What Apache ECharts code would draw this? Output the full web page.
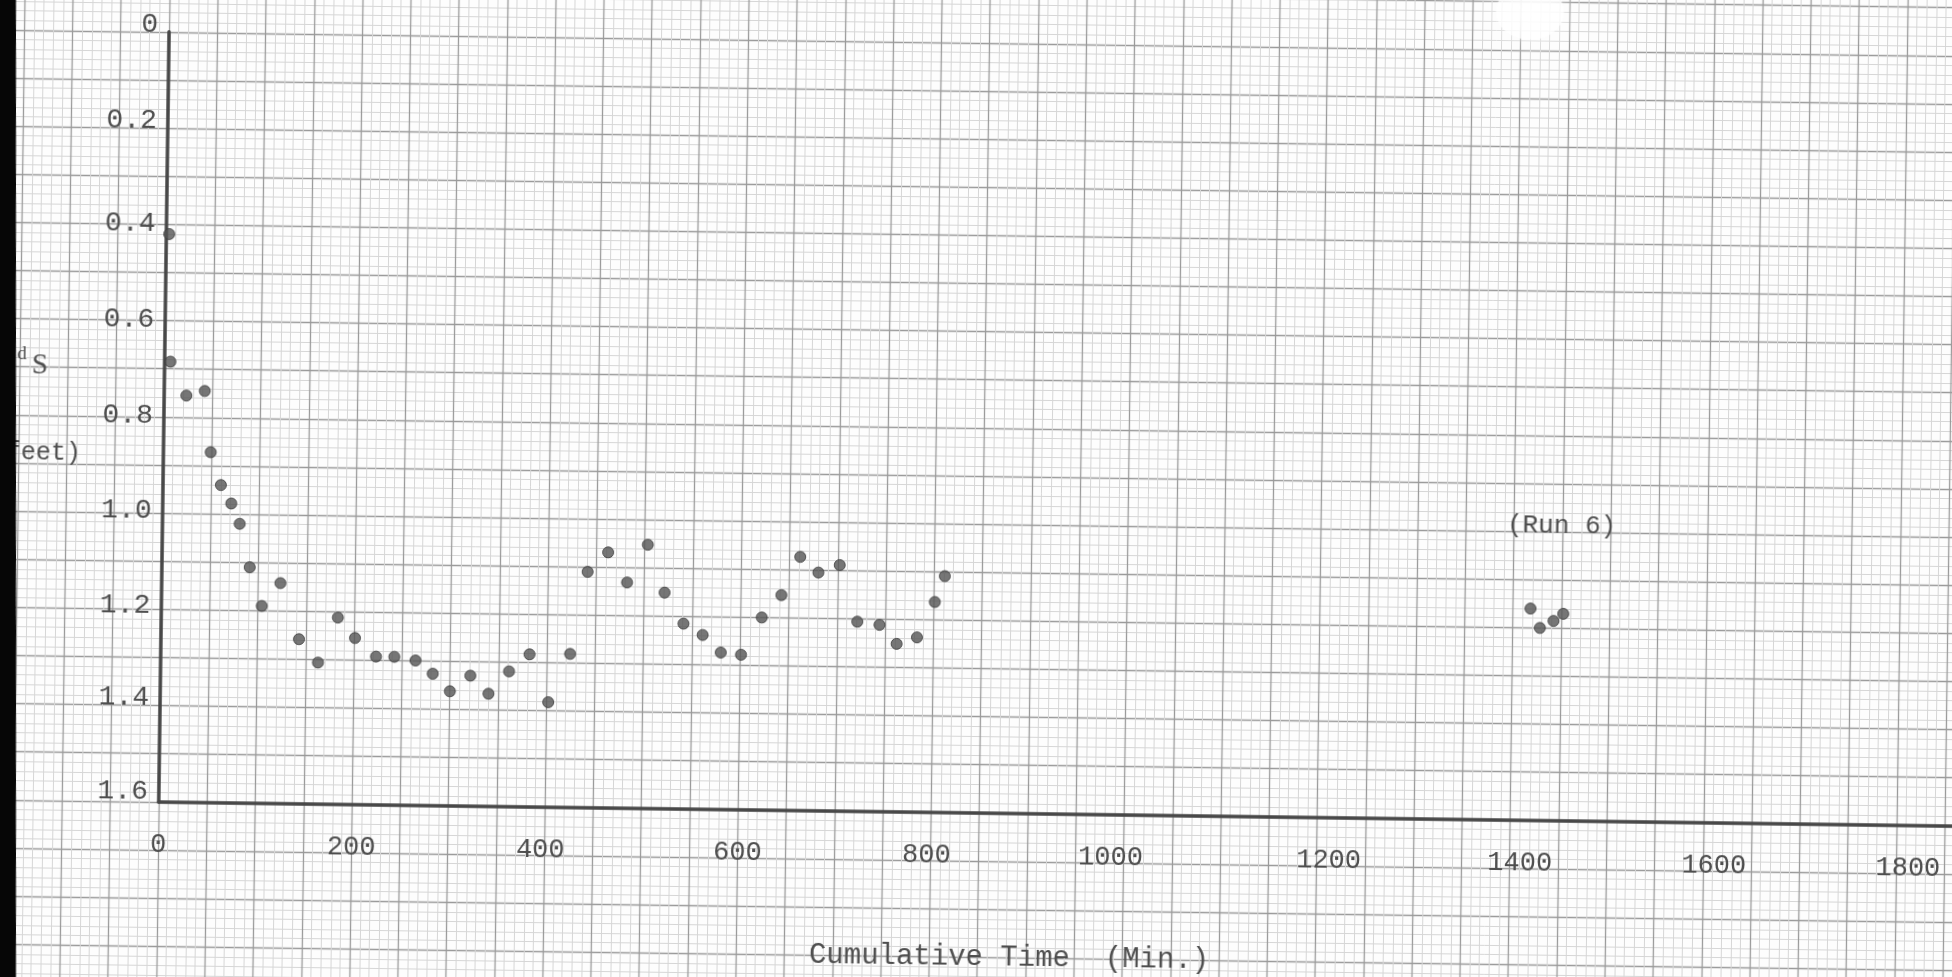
<!DOCTYPE html>
<html>
<head>
<meta charset="utf-8">
<script src="https://cdn.jsdelivr.net/npm/echarts@6/dist/echarts.min.js"></script>
<style>
  html, body { margin: 0; padding: 0; width: 1952px; height: 977px; overflow: hidden; background: #fff; }
  /* the sheet sits slightly askew, so the whole drawing is turned a little */
  #chart { position: absolute; left: -60px; top: -60px; width: 2072px; height: 1097px;
           transform: rotate(0.77deg); transform-origin: 50% 50%; }
</style>
</head>
<body>
<div id="chart"></div>
<script>
// Run 5: cumulative time (min) and scour depth d_S (feet)
const run5Time  = [3, 6, 23, 42, 49, 60, 71, 80, 91, 104, 123, 143, 163, 183, 201, 223, 242, 264, 282, 300,
                   321, 340, 361, 382, 402, 424, 441, 462, 482, 503, 521, 541, 561, 580, 601, 622, 642, 661,
                   680, 702, 721, 744, 762, 783, 801, 811];
const run5Depth = [0.42, 0.685, 0.755, 0.745, 0.872, 0.94, 0.978, 1.02, 1.11, 1.19, 1.142, 1.258, 1.306, 1.212,
                   1.254, 1.292, 1.292, 1.299, 1.326, 1.362, 1.329, 1.366, 1.319, 1.283, 1.382, 1.281, 1.11,
                   1.069, 1.131, 1.052, 1.151, 1.215, 1.238, 1.274, 1.278, 1.2, 1.153, 1.073, 1.105, 1.089,
                   1.206, 1.212, 1.251, 1.237, 1.163, 1.109];

// Run 6
const run6Time  = [1418, 1428, 1442, 1452];
const run6Depth = [1.16, 1.2, 1.185, 1.17];

// tick labels
const timeTicks = [0, 200, 400, 600, 800, 1000, 1200, 1400, 1600, 1800];
const depthTicks = [0, 0.2, 0.4, 0.6, 0.8, 1.0, 1.2, 1.4, 1.6];
const depthTickLabels = ['0', '0.2', '0.4', '0.6', '0.8', '1.0', '1.2', '1.4', '1.6'];

const xTitle = 'Cumulative Time  (Min.)';
const runNote = '(Run 6)';
const runNoteAt = [1449, 0.987];

// ---- layout ----
// typed labels sit a little off their rulings (px): time labels + = right, depth labels + = up
const timeLabelNudge = [0, 0, -4, 0, -4, -13, 12, 10, 11, 12];
const depthLabelNudge = [7, 6, -6, -6, -6, -3, -1, 8, 12];

const TILT = 0.77 * Math.PI / 180;
const W = 2072, H = 1097, OFF = 60;
const CX = W / 2, CY = H / 2;
// page point -> point in the chart's own (turned) frame
function fromView(px, py) {
  const dx = px + OFF - CX, dy = py + OFF - CY;
  const c = Math.cos(TILT), s = Math.sin(TILT);
  return [CX + dx * c + dy * s, CY - dx * s + dy * c];
}

const ink = '#4e4e4e';
const mono = '"Liberation Mono", "DejaVu Sans Mono", monospace';
const serif = '"Liberation Serif", "DejaVu Serif", serif';

const pxPerMin = 0.9655, pxPerFoot = 481.3;
const originX = 223, originY = 102.8;   // where time 0 / depth 0 fall in the frame

const run5 = run5Time.map((t, i) => [t, run5Depth[i]]);
const run6 = run6Time.map((t, i) => [t, run6Depth[i]]);

const timeRich = {};
timeLabelNudge.forEach((n, i) => {
  timeRich['t' + i] = { fontFamily: mono, fontSize: 27, color: ink,
                        padding: n >= 0 ? [0, 0, 0, 2 * n] : [0, -2 * n, 0, 0] };
});
// depth labels: base lift of 8px above the ruling, plus each label's own offset
const depthRich = {};
depthLabelNudge.forEach((n, i) => {
  const lift = 8 + n;
  depthRich['d' + i] = { fontFamily: mono, fontSize: 28, color: ink, lineHeight: 28,
                         padding: lift >= 0 ? [0, 0, lift, 0] : [-lift, 0, 0, 0] };
});

const titlePos = fromView(1009, 958);
const dPos = fromView(22, 354);
const sPos = fromView(40, 366);
const feetPos = fromView(81, 453);
const barCorner = fromView(-50, -80);
const smudgePos = fromView(1530, 12);

const chart = echarts.init(document.getElementById('chart'), null, { renderer: 'canvas' });

chart.setOption({
  animation: false,
  backgroundColor: '#fdfdfd',
  grid: [
    // graph-paper ruling, covering the whole sheet
    { left: originX - 200 * pxPerMin, top: originY - 0.2 * pxPerFoot,
      width: 2100 * pxPerMin, height: 2.3 * pxPerFoot, show: false, outerBoundsMode: 'none' },
    // plotting area
    { left: originX, top: originY, width: 1900 * pxPerMin, height: 1.6 * pxPerFoot,
      show: false, outerBoundsMode: 'none' }
  ],
  xAxis: [
    { gridIndex: 0, type: 'value', min: -200, max: 1900, interval: 50,
      axisLine: { show: false }, axisTick: { show: false }, axisLabel: { show: false },
      splitLine: { show: true, lineStyle: { color: '#9a9a9a', width: 1.3 } },
      minorTick: { show: false, splitNumber: 5 },
      minorSplitLine: { show: true, lineStyle: { color: '#d6d6d6', width: 1 } } },
    { gridIndex: 1, type: 'value', min: 0, max: 1900, interval: 200,
      axisLine: { show: true, onZero: false, lineStyle: { color: '#474747', width: 3.5 } },
      axisTick: { show: false }, splitLine: { show: false },
      axisLabel: { margin: 29, fontFamily: mono, fontSize: 27, color: ink, showMaxLabel: false,
                   rich: timeRich,
                   formatter: v => {
                     const i = timeTicks.indexOf(v);
                     return i < 0 ? '' : '{t' + i + '|' + v + '}';
                   } } }
  ],
  yAxis: [
    { gridIndex: 0, type: 'value', inverse: true, min: -0.2, max: 2.1, interval: 0.1,
      axisLine: { show: false }, axisTick: { show: false }, axisLabel: { show: false },
      splitLine: { show: true, lineStyle: { color: '#9a9a9a', width: 1.3 } },
      minorTick: { show: false, splitNumber: 5 },
      minorSplitLine: { show: true, lineStyle: { color: '#d6d6d6', width: 1 } } },
    { gridIndex: 1, type: 'value', inverse: true, min: 0, max: 1.6, interval: 0.2,
      axisLine: { show: true, onZero: false, lineStyle: { color: '#474747', width: 3.5 } },
      axisTick: { show: false }, splitLine: { show: false },
      axisLabel: { margin: 11, fontFamily: mono, fontSize: 28, color: ink, verticalAlign: 'middle',
                   rich: depthRich,
                   formatter: v => {
                     const i = depthTicks.findIndex(t => Math.abs(t - v) < 1e-6);
                     return i < 0 ? '' : '{d' + i + '|' + depthTickLabels[i] + '}';
                   } } }
  ],
  series: [
    { name: 'Run 5', type: 'scatter', xAxisIndex: 1, yAxisIndex: 1, data: run5,
      symbol: 'circle', symbolSize: 11,
      itemStyle: { color: '#545454', borderColor: '#3a3a3a', borderWidth: 1 } },
    { name: 'Run 6', type: 'scatter', xAxisIndex: 1, yAxisIndex: 1, data: run6,
      symbol: 'circle', symbolSize: 11,
      itemStyle: { color: '#545454', borderColor: '#3a3a3a', borderWidth: 1 },
      markPoint: {
        symbol: 'rect', symbolSize: [1, 1], itemStyle: { color: 'rgba(0,0,0,0)' },
        label: { show: true, position: 'inside', formatter: runNote,
                 fontFamily: mono, fontSize: 26, color: ink },
        data: [{ coord: runNoteAt }]
      } }
  ],
  graphic: [
    { type: 'text', x: titlePos[0], y: titlePos[1], z: 50,
      style: { text: xTitle, font: '29px ' + mono, fill: ink,
               align: 'center', verticalAlign: 'middle', textAlign: 'center', textVerticalAlign: 'middle' } },
    { type: 'text', x: dPos[0], y: dPos[1], z: 50,
      style: { text: 'd', font: '19px ' + serif, fill: ink,
               align: 'center', verticalAlign: 'middle', textAlign: 'center', textVerticalAlign: 'middle' } },
    { type: 'text', x: sPos[0], y: sPos[1], z: 50,
      style: { text: 'S', font: '29px ' + serif, fill: ink,
               align: 'center', verticalAlign: 'middle', textAlign: 'center', textVerticalAlign: 'middle' } },
    { type: 'text', x: feetPos[0], y: feetPos[1], z: 50,
      style: { text: '(feet)', font: '25px ' + mono, fill: ink,
               align: 'right', verticalAlign: 'middle', textAlign: 'right', textVerticalAlign: 'middle' } },
    // worn, whitened spot near the top edge of the sheet
    { type: 'ellipse', x: smudgePos[0], y: smudgePos[1], z: 40,
      shape: { cx: 0, cy: 0, rx: 34, ry: 28 },
      style: { fill: 'rgba(255,255,255,0.72)', shadowBlur: 28, shadowColor: 'rgba(255,255,255,1)' } },
    // dark margin strip along the left edge of the sheet
    { type: 'rect', x: barCorner[0], y: barCorner[1], rotation: TILT, z: 200,
      shape: { x: 0, y: 0, width: 66, height: 1200 }, style: { fill: '#060606' } }
  ]
});
</script>
</body>
</html>
